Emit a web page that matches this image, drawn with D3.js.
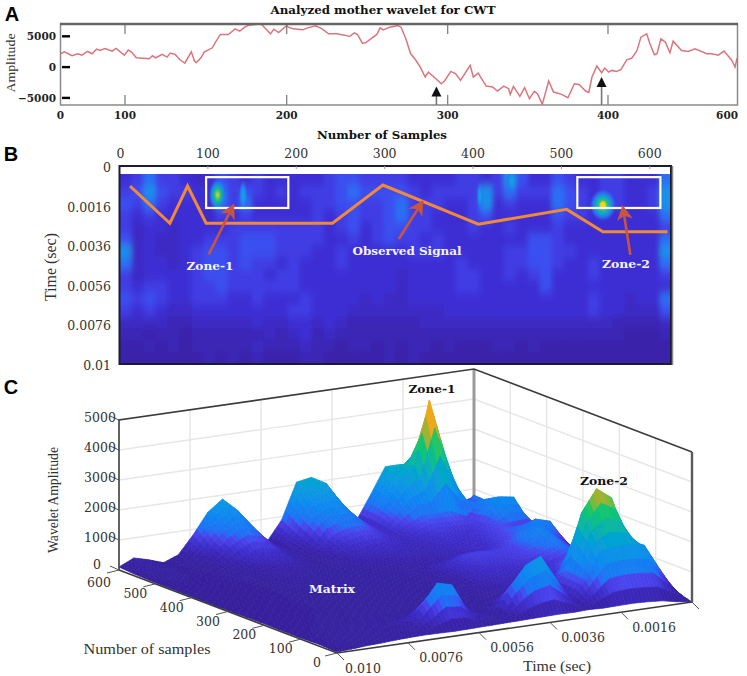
<!DOCTYPE html>
<html><head><meta charset="utf-8">
<script src="https://cdn.jsdelivr.net/npm/d3@7"></script>
<style>html,body{margin:0;padding:0;background:#fff}svg{display:block}</style>
</head><body><div id="c"></div>
<script>
// ---------- Panel A ----------
const waveSamples=[0,6,12,18,27,33,42,49,56,61,69,80,86,99,102,104,107,113,115,117,119,123,126,128,131,134,137,141,143,144,147,149,154,156,159,164,168,171,174,176,184,187,190,192,195,200,201,204,210,213,218,222,226,231,236,239,242,244,247,249,252,256,258,260,264,269,271,274,277,280,283,286,288,292,296,298,302,305,308,314,316,319,324,328,331,335,338,339,341,345,348,351,354,356,359,363,366,371,375,379,382,386,388,390,393,396,398,401,406,413,420,429,437,445,451,460,465,472,476,482,489,496,501,514,524,535,553,561,571,580,592,597,600];
const waveAmp=[2165,2490,2165,1840,2165,1950,2540,2165,2920,2700,3030,2600,3030,1950,2760,2435,1517,1410,1355,1840,1517,2060,1625,2270,2060,1190,650,2490,975,705,1517,2435,3135,4055,5300,5300,6215,5835,6485,6755,7050,6215,5400,6160,5620,6755,6485,6215,6050,6375,6700,6215,5405,5405,5190,4970,5565,5300,3900,3950,4540,5300,6375,6050,6485,6755,6485,4595,2165,1190,0,-1615,-805,-1723,-2695,-2260,-697,-1075,-2155,275,-1615,-967,-3073,-3235,-3883,-3073,-3505,-4423,-3127,-4747,-3343,-5125,-3937,-4315,-6043,-2263,-4045,-4423,-4963,-2695,-2803,-3883,-4099,-1615,167,-913,-157,-805,-535,-697,-427,1193,1463,2705,4865,5405,3785,2003,2165,4595,4055,2327,4217,2705,2543,2975,2165,2165,1949,2597,1085,5,1463];
const waveXTicks=[0,100,200,300,400,600];
const waveXInnerTicks=[100,200,300,400];
const waveYTicks=[5000,0,-5000];
const waveMarks=[293,396];

// ---------- Panel B ----------
const heatSampleTicks=[0,100,200,300,400,500,600];
const heatTimeTicks=[0,0.0016,0.0036,0.0056,0.0076,0.01];
const heatLevels=[
"4575543465"+"4544444566"+"5555444455"+"4586446544"+"554447",
"5686554475"+"6545455567"+"6666545555"+"8575557654"+"554458",
"6575444475"+"7444445566"+"5567555445"+"8454447654"+"554458",
"5454444354"+"5444445456"+"5567554445"+"6444446554"+"444447",
"5344344445"+"5555555456"+"4566554445"+"4454445444"+"444445",
"6343344555"+"6665555445"+"4565545444"+"4444665444"+"444447",
"8343345665"+"6665554454"+"4444555444"+"4455665544"+"444448",
"7344345665"+"6554544454"+"4444444454"+"4455665445"+"444447",
"5344445665"+"5545544444"+"4443444455"+"4454564445"+"444445",
"5455445565"+"5555544444"+"4443444455"+"4444464444"+"444444",
"6565445554"+"4544454444"+"3433444444"+"4444444445"+"443447",
"5454334444"+"4444554443"+"3333333444"+"4444444445"+"443336",
"3333223333"+"3433443432"+"2222233333"+"3333333333"+"322223",
"2212212222"+"2232342322"+"2222222222"+"2222222222"+"221112",
"1121212222"+"2322232212"+"2121221211"+"1221211111"+"111111",
"1111111212"+"1211122111"+"1121211111"+"1111111111"+"111111"];
const hotSample=[111,547,140,408,444];
const hotTime=[0.00117,0.00158,0.0012,0.0012,0.0006];
const hotSpreadS=[10,15,5,4,7];
const hotSpreadT=[0.0007,0.0008,0.0007,0.0006,0.0005];
const hotKind=["z1","z2","c","c","c"];
const signalSample=[12,57,77,98,241,298,406,506,547,620];
const signalTime=[0.00081,0.00249,0.00081,0.00249,0.00249,0.00077,0.00254,0.00179,0.00292,0.00292];
const zoneSample=[[98,191],[518,612]];
const zoneTime=[0.00045,0.00172];
const arrowFromS=[101,316,578], arrowFromT=[0.00406,0.00329,0.00409];
const arrowToS=[129,343,569.5], arrowToT=[0.00157,0.00143,0.00165];

// ---------- Panel C ----------
const surfaceSamples=[600,560,500,450,400,350,300,250,200,150,100,50,0];
const surface=[
[100,330,200,30,220,810,1500,1870,1430,630,230,900,2080,2170,1900,1100,470,1300,2170,2170,2050,2400,1400,370,370],
[60,180,150,60,130,480,1000,1300,1100,520,260,620,1450,1600,1450,900,520,1150,1900,2300,4430,2630,630,1050,650],
[40,90,80,50,90,260,520,680,620,360,240,380,760,950,950,700,520,760,1000,1000,1000,750,1230,1000,770],
[30,60,60,50,70,140,300,400,380,280,220,280,460,560,600,520,460,560,680,640,620,780,1570,1490,300],
[30,50,50,50,60,100,180,240,240,200,190,220,300,360,400,400,420,500,560,560,700,900,690,750,720],
[30,40,50,50,60,90,130,160,170,170,170,190,230,270,300,320,360,420,500,600,800,1000,1290,1150,250],
[30,40,50,60,70,90,110,130,140,140,150,170,190,220,350,550,780,800,750,800,1100,1390,980,580,200],
[40,50,60,60,70,90,100,110,120,130,140,150,170,200,260,500,650,640,700,800,1000,1100,800,450,150],
[50,60,70,70,80,90,100,110,120,130,130,150,180,250,300,400,450,500,600,600,700,900,800,500,150],
[40,60,70,80,90,100,110,120,130,130,130,150,180,200,250,300,350,400,500,700,1400,2500,2200,1270,530],
[40,80,100,120,130,160,180,220,260,270,240,200,190,220,300,380,380,300,1000,2870,3600,3230,1760,1020,450],
[60,90,110,130,150,180,270,870,1530,1400,500,300,200,1100,1700,1930,1130,330,930,1790,1900,1880,1800,970,170],
[30,60,100,120,150,170,180,170,160,170,180,190,200,210,220,230,220,240,220,230,240,220,180,80,0]];
const ampTicks=[0,1000,2000,3000,4000,5000];
const sampleTicks=[0,100,200,300,400,500,600];
const timeTickValues=[0.01,0.0076,0.0056,0.0036,0.0016,0];
const timeTickText=["0.010","0.0076","0.0056","0.0036","0.0016",""];

const SERIF="'Liberation Serif',serif", DSERIF="'DejaVu Serif',serif", SANS="'Liberation Sans',sans-serif";
const svg=d3.select("#c").append("svg").attr("width",747).attr("height",676);
const defs=svg.append("defs");
function label(t,x,y,o={}){
  const e=svg.append("text").attr("x",x).attr("y",y).text(t)
    .attr("font-family",o.f||DSERIF).attr("font-size",o.s||12.5).attr("fill",o.c||"#333")
    .attr("font-weight",o.w||"normal").attr("text-anchor",o.a||"middle").attr("dominant-baseline","central");
  if(o.len) e.attr("textLength",o.len).attr("lengthAdjust","spacingAndGlyphs");
  if(o.r!==undefined) e.attr("transform",`rotate(${o.r} ${x} ${y})`);
  return e;
}
defs.append("filter").attr("id","soft").attr("x","-5%").attr("y","-5%").attr("width","110%").attr("height","110%")
  .append("feGaussianBlur").attr("stdDeviation",0.7);
defs.append("filter").attr("id","soft2").append("feGaussianBlur").attr("stdDeviation",0.35);

// Panel letters
[["A",12,14],["B",11,154],["C",11,387]].forEach(d=>label(d[0],d[1],d[2],{f:SANS,w:"bold",s:20,c:"#000"}));

// ===== A =====
const ax=d3.scaleLinear().domain(waveXTicks).range([60.5,125,286.7,447.7,608,737]);
const ay=d3.scaleLinear().domain([-6150,7000]).range([105,24]);
defs.append("clipPath").attr("id","ca").append("rect").attr("x",60).attr("y",24).attr("width",678).attr("height",81);
svg.append("path").attr("clip-path","url(#ca)").attr("fill","none").attr("stroke","#da767d").attr("stroke-width",1.5).attr("filter","url(#soft2)")
  .attr("d",d3.line().x(d=>ax(d[0])).y(d=>ay(d[1]))(waveSamples.map((s,i)=>[s,waveAmp[i]])));
const ag=svg.append("g");
waveXInnerTicks.forEach(v=>{
  ag.append("line").attr("x1",ax(v)).attr("x2",ax(v)).attr("y1",24).attr("y2",34).attr("stroke","#777").attr("stroke-width",1.2);
  ag.append("line").attr("x1",ax(v)).attr("x2",ax(v)).attr("y1",95).attr("y2",105).attr("stroke","#777").attr("stroke-width",1.2);
});
ag.append("rect").attr("x",60.5).attr("y",24).attr("width",677).attr("height",81).attr("fill","none").attr("stroke","#8a8a8a").attr("stroke-width",1.5);
ag.append("line").attr("x1",60).attr("x2",738).attr("y1",24).attr("y2",24).attr("stroke","#666").attr("stroke-width",2.5);
waveYTicks.forEach(v=>{
  ag.append("line").attr("x1",62).attr("x2",70).attr("y1",ay(v)).attr("y2",ay(v)).attr("stroke","#000").attr("stroke-width",2.4);
  label(v<0?"\u2212"+(-v):""+v,56,ay(v),{a:"end",w:"bold",s:10.5,c:"#222"});
});
waveXTicks.forEach(v=>label(""+v,v==600?738:ax(v),115,{a:v==600?"end":"middle",w:"bold",s:10.5,c:"#222"}));
waveMarks.forEach((m,i)=>{
  const x=ax(m), top=i?77:86.5;
  ag.append("line").attr("x1",x).attr("x2",x).attr("y1",top+8).attr("y2",105).attr("stroke","#777").attr("stroke-width",1.6);
  ag.append("path").attr("d",d3.line()([[x,top],[x-5,top+10],[x+5,top+10]])+"Z").attr("fill","#111");
});
label("Analyzed mother wavelet  for CWT",383,10,{w:"bold",s:10.5,c:"#111",len:225});
label("Number of Samples",382,135,{w:"bold",s:11,c:"#111",len:130});
label("Amplitude",11,63,{f:SERIF,s:12.5,r:-90,len:59,c:"#333"});

// ===== B =====
const bx=d3.scaleLinear().domain([0,624]).range([119.5,671]);
const by=d3.scaleLinear().domain(heatTimeTicks).range([166,205.6,245.2,284.8,324.4,364]);
const levelColor=d3.scaleLinear().domain([0,1,2,3,4,5,6,7,8,9])
  .range(["#3a20a2","#3a22aa","#3b26b6","#3c2ac4","#3d2fd4","#3f3ce4","#3a50f0","#2a70f4","#1692ea","#12b4c4"]);
defs.append("clipPath").attr("id","cb").append("rect").attr("x",119.5).attr("y",174).attr("width",551.5).attr("height",190);
const blur=defs.append("filter").attr("id","hb").attr("x","-5%").attr("y","-5%").attr("width","110%").attr("height","110%");
blur.append("feGaussianBlur").attr("stdDeviation","2.4 4.5");
const gb=svg.append("g").attr("clip-path","url(#cb)");
gb.append("rect").attr("x",119.5).attr("y",174).attr("width",551.5).attr("height",190).attr("fill",levelColor(1));
const cells=heatLevels.flatMap((r,j)=>Array.from(r).map((c,i)=>({i,j,v:+c})));
const cw=552.5/46, ch=190/16;
gb.append("g").attr("filter","url(#hb)").selectAll("rect").data(cells).join("rect")
  .attr("x",d=>119.5+d.i*cw-(d.i==0?30:0)).attr("y",d=>174+d.j*ch-(d.j==0?30:0))
  .attr("width",d=>cw+0.5+(d.i==0||d.i==45?30:0)).attr("height",d=>ch+0.5+(d.j==0||d.j==15?30:0))
  .attr("fill",d=>levelColor(d.v));
const grads={z1:[["0","#d8d838"],["0.18","#7cc850"],["0.42","#14b49c"],["0.7","#1a86e8"],["1","#3264ee00"]],
 z2:[["0","#ffd400"],["0.16","#f0d820"],["0.32","#30c070"],["0.5","#10aacc"],["0.75","#2a74ec"],["1","#3264ee00"]],
 c:[["0","#10a8e0"],["0.55","#1e86ec"],["1","#3264ee00"]]};
Object.keys(grads).forEach(k=>{
  const g=defs.append("radialGradient").attr("id","g"+k);
  grads[k].forEach(s=>g.append("stop").attr("offset",s[0]).attr("stop-color",s[1]));
});
gb.selectAll("ellipse").data(hotSample.map((s,i)=>i)).join("ellipse")
  .attr("cx",i=>bx(hotSample[i])).attr("cy",i=>by(hotTime[i]))
  .attr("rx",i=>bx(hotSpreadS[i])-bx(0)).attr("ry",i=>by(hotTime[i]+hotSpreadT[i])-by(hotTime[i]))
  .attr("fill",i=>`url(#g${hotKind[i]})`);
svg.append("rect").attr("x",119.5).attr("y",166).attr("width",551.5).attr("height",198).attr("fill","none").attr("stroke","#1c1c30").attr("stroke-width",2);
svg.append("line").attr("x1",672.5).attr("x2",672.5).attr("y1",166).attr("y2",365).attr("stroke","#888").attr("stroke-width",1.5);
heatSampleTicks.forEach(v=>{
  if(v>0&&v<=600) svg.append("line").attr("x1",bx(v)).attr("x2",bx(v)).attr("y1",166).attr("y2",169).attr("stroke","#999");
  label(""+v,bx(v)+(v==0?1:0),153,{});
});
heatTimeTicks.forEach(v=>label(""+v,111,by(v)+1.5,{a:"end"}));
label("Time (sec)",50,267,{f:SERIF,s:16.5,r:-90,len:68});
zoneSample.forEach(z=>svg.append("rect").attr("x",bx(z[0])).attr("y",by(zoneTime[0])).attr("width",bx(z[1])-bx(z[0])).attr("height",by(zoneTime[1])-by(zoneTime[0]))
  .attr("fill","none").attr("stroke","#fff").attr("stroke-width",2.2));
svg.append("path").attr("fill","none").attr("stroke","#f0893a").attr("stroke-width",3).attr("stroke-linejoin","miter")
  .attr("d",d3.line().x(d=>bx(d[0])).y(d=>by(d[1]))(signalSample.map((s,i)=>[s,signalTime[i]])));
defs.append("marker").attr("id","ah").attr("markerUnits","userSpaceOnUse").attr("markerWidth",16).attr("markerHeight",16)
  .attr("refX",10).attr("refY",6).attr("orient","auto").attr("viewBox","0 0 12 12")
  .append("path").attr("d","M0,0 L11,6 L0,12 L3,6 Z").attr("fill","#c9543f");
arrowFromS.forEach((s,i)=>svg.append("line").attr("x1",bx(s)).attr("y1",by(arrowFromT[i])).attr("x2",bx(arrowToS[i])).attr("y2",by(arrowToT[i]))
  .attr("stroke","#c9543f").attr("stroke-width",2.6).attr("marker-end","url(#ah)"));
label("Zone-1",210,266,{w:"bold",c:"#f4f4ff",s:11.5,len:47});
label("Observed Signal",407,251,{w:"bold",c:"#f4f4ff",s:11,len:109});
label("Zone-2",626,264,{w:"bold",c:"#f4f4ff",s:11.5,len:48});

// ===== C =====
const colX=d3.scaleLinear().domain([0,24]).range([0,355]);
const colY=d3.scaleLinear().domain([0,24]).range([0,-51]);
const sampX=d3.scaleLinear().domain([0,600]).range([0,-218]);
const sampY=d3.scaleLinear().domain([0,600]).range([0,-83]);
const ampY=d3.scaleLinear().domain([0,5000]).range([0,-150]);
const tickCol=d3.scaleLinear().domain(timeTickValues).range([0,4.8,9.6,14.4,19.2,24]);
const P=(c,s,z)=>[337+colX(c)+sampX(s),653+colY(c)+sampY(s)+ampY(z)];
const wall=svg.append("g").attr("stroke","#e6e6e6").attr("stroke-width",1.4);
const seg=(g,a,b)=>g.append("line").attr("x1",a[0]).attr("y1",a[1]).attr("x2",b[0]).attr("y2",b[1]);
ampTicks.slice(1,-1).forEach(z=>{seg(wall,P(0,600,z),P(24,600,z));seg(wall,P(24,600,z),P(24,0,z));});
timeTickValues.slice(1,-1).forEach(t=>seg(wall,P(tickCol(t),600,0),P(tickCol(t),600,5000)));
sampleTicks.slice(1,-1).forEach(s=>seg(wall,P(24,s,0),P(24,s,5000)));
seg(svg,P(24,600,0),P(24,600,5000)).attr("stroke","#9a9a9a").attr("stroke-width",3);
const ampColor=d3.scaleLinear().domain([0,300,600,850,1000,1500,2100,2500,2950,3150,3350,3650,4100,4430])
  .range(["#36209a","#3822a8","#3e2ecc","#4a44ee","#2070f4","#0a8cf0","#06a4d0","#08b8a0","#14c86c","#78bb40","#a8b030","#e8a020","#ffc010","#ffe000"]);
const N=4, facets=[];
for(let j=0;j<surfaceSamples.length-1;j++)for(let i=0;i<24;i++)for(let a=0;a<N;a++)for(let b=0;b<N;b++){
  const q=(u,v)=>{const f=u/N,g=v/N;
    const z=(1-f)*(1-g)*surface[j][i]+f*(1-g)*surface[j][i+1]+(1-f)*g*surface[j+1][i]+f*g*surface[j+1][i+1];
    const s=surfaceSamples[j]*(1-g)+surfaceSamples[j+1]*g;
    return {c:i+f,s,z};};
  const pts=[q(a,b),q(a+1,b),q(a+1,b+1),q(a,b+1)];
  const m=d3.mean(pts,p=>p.z), fl=d3.mean(pts,p=>P(p.c,p.s,0)[1]);
  facets.push({pts:pts.map(p=>P(p.c,p.s,p.z)),m,fl});
}
facets.sort((p,q)=>q.fl<p.fl?1:-1);
svg.append("g").attr("filter","url(#soft)").selectAll("path").data(facets).join("path")
  .attr("d",d=>d3.line()(d.pts)+"Z").attr("fill",d=>ampColor(d.m)).attr("stroke",d=>ampColor(d.m)).attr("stroke-width",0.7);
const frame=svg.append("g").attr("stroke","#3c3c3c").attr("stroke-width",1.6).attr("fill","none");
frame.append("path").attr("d",d3.line()([P(0,600,0),P(0,600,5000),P(24,600,5000),P(24,0,5000)]));
frame.append("path").attr("d",d3.line()([P(0,600,0),P(0,0,0),P(24,0,0)]));
seg(svg,P(24,0,5000),P(24,0,0)).attr("stroke","#5a5a5a").attr("stroke-width",2.4);
const tk=svg.append("g").attr("stroke","#555").attr("stroke-width",1);
ampTicks.forEach(z=>{const p=P(0,600,z);seg(tk,p,[p[0]-9,p[1]-4]);label(""+z,z?100:97,p[1]-(z?3:6));});
sampleTicks.forEach(s=>{const p=P(0,s,0);seg(tk,p,[p[0]-12,p[1]+3]);label(""+s,p[0]-20,p[1]+(s==600?12.5:9.5));});
timeTickValues.forEach((t,i)=>{const p=P(tickCol(t),0,0);seg(tk,p,[p[0]+7,p[1]+7]);if(timeTickText[i])label(timeTickText[i],p[0]+(i?33:26),p[1]+15);});
label("Wavelet Amplitude",53,500,{f:SERIF,s:15,r:-90,len:106});
label("Number of samples",147,649,{f:SERIF,s:15,len:127});
label("Time (sec)",557,666,{f:SERIF,s:15,len:68});
label("Matrix",332,589,{w:"bold",c:"#f4f4ff",s:11.5,len:46});
label("Zone-1",432,389,{w:"bold",c:"#111",s:11.5,len:47});
label("Zone-2",604,481,{w:"bold",c:"#111",s:11.5,len:48});
</script></body></html>
